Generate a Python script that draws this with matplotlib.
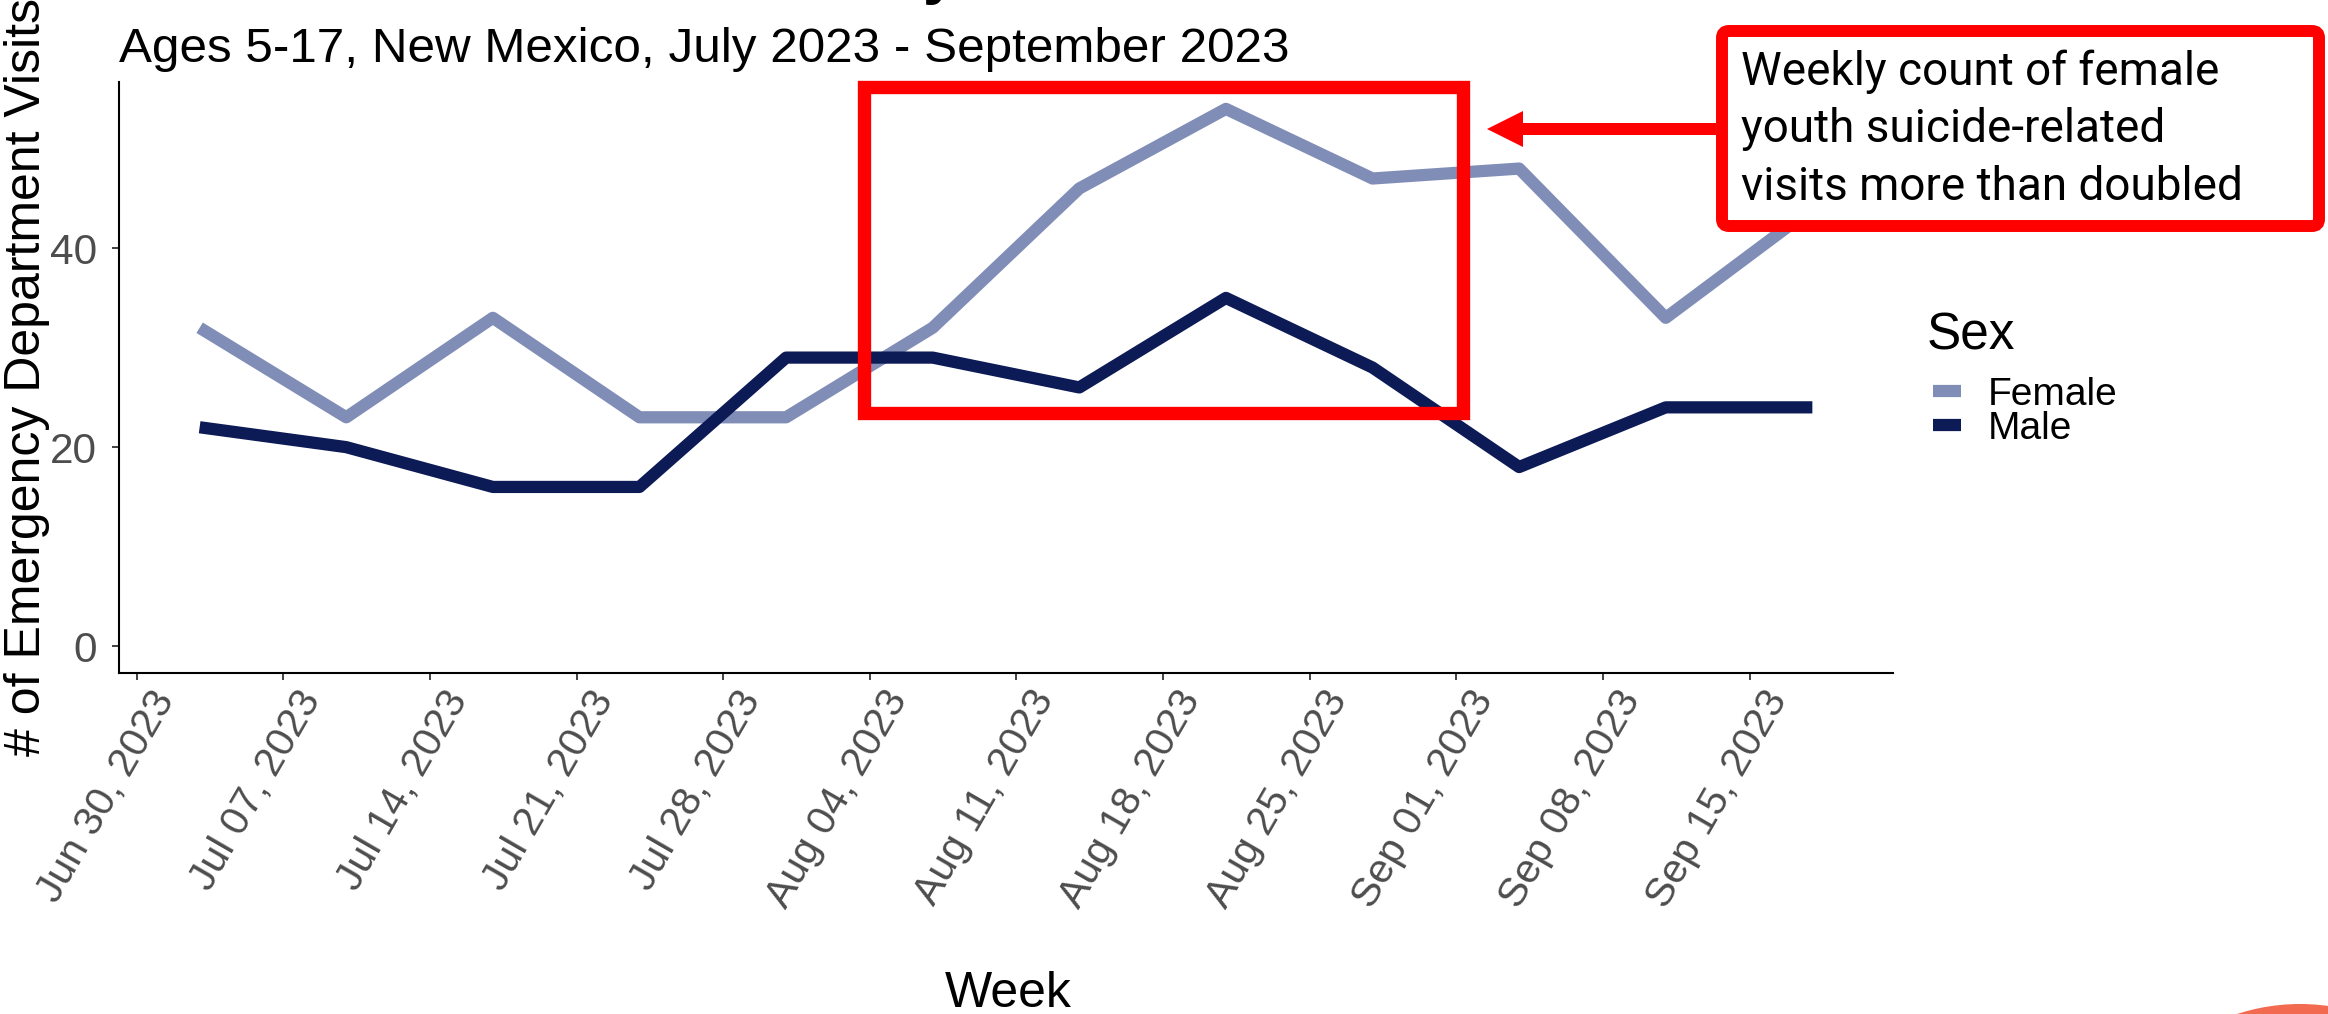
import datetime as dt
import matplotlib
matplotlib.use("Agg")
import matplotlib.pyplot as plt
import matplotlib.dates as mdates
import matplotlib.transforms as mtransforms
from matplotlib.patches import Rectangle, FancyBboxPatch, FancyArrow, Circle
from matplotlib.transforms import IdentityTransform

# weekly counts (week starting Monday)
weeks = ["2023-07-03", "2023-07-10", "2023-07-17", "2023-07-24", "2023-07-31", "2023-08-07",
         "2023-08-14", "2023-08-21", "2023-08-28", "2023-09-04", "2023-09-11", "2023-09-18"]
female = [32, 23, 33, 23, 23, 32, 46, 54, 47, 48, 33, 44]
male = [22, 20, 16, 16, 29, 29, 26, 35, 28, 18, 24, 24]
tick_dates = ["2023-06-30", "2023-07-07", "2023-07-14", "2023-07-21", "2023-07-28", "2023-08-04",
              "2023-08-11", "2023-08-18", "2023-08-25", "2023-09-01", "2023-09-08", "2023-09-15"]
y_ticks = [0, 20, 40]

female_color = "#808DB6"
male_color = "#0C1A55"
W, H = 2328, 1014

plt.rcParams["font.family"] = ["Liberation Sans", "DejaVu Sans"]

x = [dt.datetime.strptime(d, "%Y-%m-%d") for d in weeks]
xt = [dt.datetime.strptime(d, "%Y-%m-%d") for d in tick_dates]

fig = plt.figure(figsize=(W / 100, H / 100), dpi=100)
ax = fig.add_axes([119 / W, 1 - 673 / H, (1893 - 119) / W, (673 - 82) / H])

l1, = ax.plot(x, female, color=female_color, lw=8.8, solid_capstyle="butt",
              solid_joinstyle="round", label="Female")
l2, = ax.plot(x, male, color=male_color, lw=8.8, solid_capstyle="butt",
              solid_joinstyle="round", label="Male")

# ggplot-like 5% expansion
span = (x[-1] - x[0]) * 0.05
ax.set_xlim(x[0] - span, x[-1] + span)
ymax = max(female)
ax.set_ylim(-0.05 * ymax, ymax * 1.05)

ax.set_xticks(xt)
ax.xaxis.set_major_formatter(mdates.DateFormatter("%b %d, %Y"))
ax.set_yticks(y_ticks)
ax.tick_params(axis="x", colors="#333333", labelcolor="#4D4D4D", length=5,
               width=1.3, labelsize=29.5, pad=3)
ax.tick_params(axis="y", colors="#333333", labelcolor="#4D4D4D", length=5,
               width=1.3, labelsize=30.5, pad=11)
shift = mtransforms.ScaledTranslation(12 / 100, 0, fig.dpi_scale_trans)
for lab in ax.get_xticklabels():
    lab.set_rotation(60)
    lab.set_ha("right")
    lab.set_va("top")
    lab.set_rotation_mode("anchor")
    lab.set_transform(lab.get_transform() + shift)

for s in ["top", "right"]:
    ax.spines[s].set_visible(False)
for s in ["left", "bottom"]:
    ax.spines[s].set_linewidth(1.5)
    ax.spines[s].set_color("black")

fig.text(27 / W, 1 - 377 / H, "# of Emergency Department Visits", rotation=90,
         ha="center", va="center", fontsize=36)
fig.text(1008 / W, 7 / H, "Week", ha="center", va="baseline", fontsize=36)

# title is mostly cropped off the top of the image
fig.text(119 / W, (H + 8) / H, "Suicide-Related ED Visits by Sex", ha="left", va="baseline",
         fontsize=44.6, fontweight="bold")
fig.text(119 / W, 952 / H, "Ages 5-17, New Mexico, July 2023 - September 2023",
         ha="left", va="baseline", fontsize=35.6)

# legend
fig.text(1927 / W, 1 - 349 / H, "Sex", ha="left", va="baseline", fontsize=37)
leg = ax.legend(handles=[l1, l2], loc="upper left",
                bbox_to_anchor=(1933 / W, 1 - 377 / H), bbox_transform=fig.transFigure,
                frameon=False, fontsize=28, handlelength=0.72,
                handletextpad=0.7, labelspacing=-0.06, borderpad=0, borderaxespad=0)

# highlight rectangle
ident = IdentityTransform()
fig.add_artist(Rectangle((864, H - 413), 599, 326, fill=False, edgecolor="red",
                         lw=9.6, joinstyle="miter", transform=ident))

# annotation box
fig.add_artist(FancyBboxPatch((1722, H - 226), 597, 195,
                              boxstyle="round,pad=0,rounding_size=7",
                              facecolor="white", edgecolor="red", lw=8.6, transform=ident))
fig.text(1741 / W, 1 - 129 / H,
         "Weekly count of female\nyouth suicide-related\nvisits more than doubled",
         ha="left", va="center", fontsize=33, family="Roboto", linespacing=1.38)
fig.add_artist(FancyArrow(1716, H - 129, -(1716 - 1487), 0, width=12, head_width=36,
                          head_length=36, length_includes_head=True, color="red",
                          lw=0, transform=ident))

# cropped logo shape bottom-right
fig.add_artist(Circle((2300, -193), 203, color="#F26B50", lw=0, transform=ident))

fig.savefig("out.png", dpi=100)
